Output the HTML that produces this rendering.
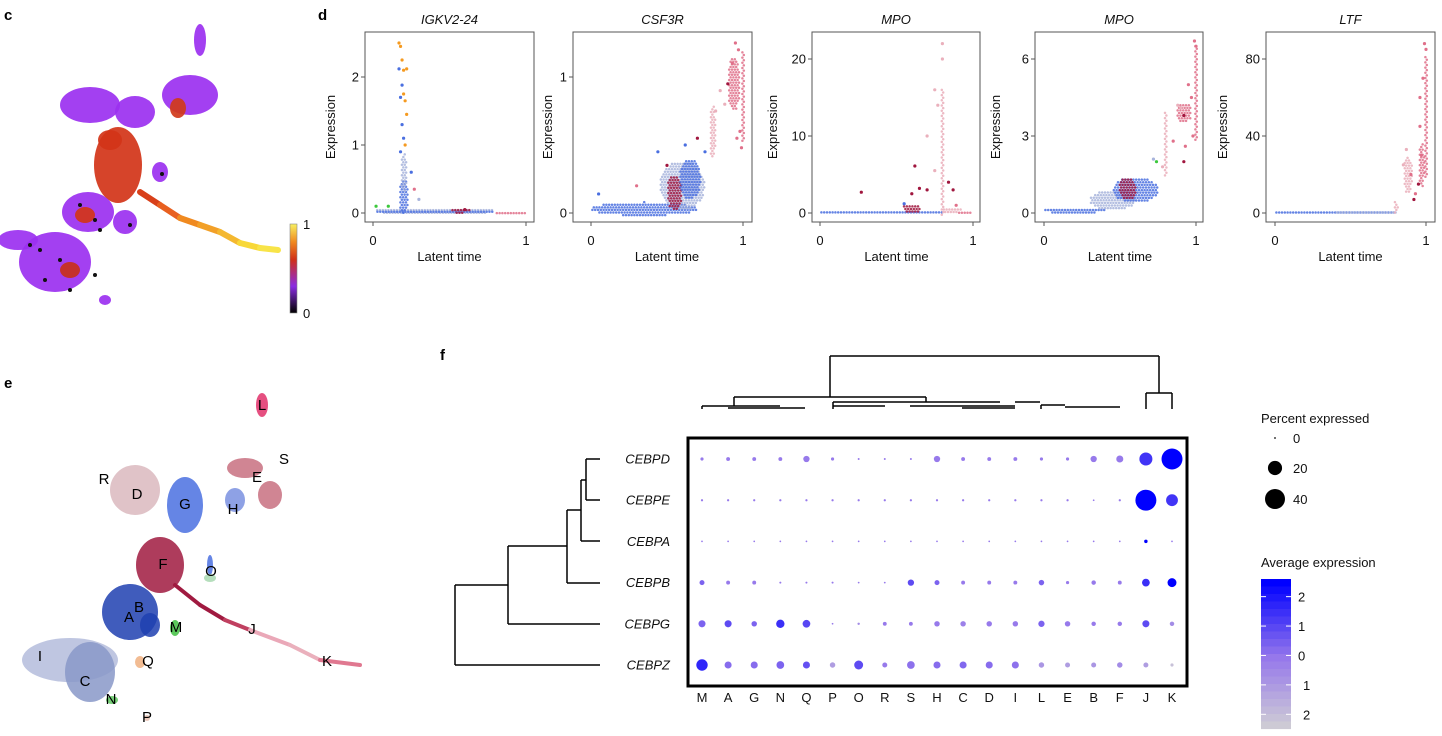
<!DOCTYPE html>
<html><head><meta charset="utf-8">
<style>
body{margin:0;background:#fff;}
svg{display:block;font-family:"Liberation Sans",sans-serif;}
.t{font-size:13px;fill:#111;}
.it{font-size:13px;font-style:italic;fill:#111;}
.pl{font-size:15px;font-weight:bold;fill:#000;}
</style></head>
<body>
<svg id="fig" width="1442" height="736" viewBox="0 0 1442 736">
<text class="pl" x="4" y="20">c</text>
<text class="pl" x="318" y="20">d</text>
<text class="pl" x="4" y="388">e</text>
<text class="pl" x="440" y="360">f</text>
<g id="gc"></g>
<g id="ge"></g>
<g id="gd"></g>
<g id="gf"></g>
</svg>
<script>
const NS='http://www.w3.org/2000/svg';
function mk(p,tag,a){const e=document.createElementNS(NS,tag);for(const k in a)e.setAttribute(k,a[k]);p.appendChild(e);return e;}

/* ---------- panel c: latent time UMAP blobs ---------- */
const cBlobs=[[200,40,6,16,'#9b30f0'],[190,95,28,20,'#9b30f0'],[178,108,8,10,'#d03a1a'],[90,105,30,18,'#9b30f0'],[135,112,20,16,'#9b30f0'],
[118,165,24,38,'#d23418'],[110,140,12,10,'#d23418'],[160,172,8,10,'#9b30f0'],[88,212,26,20,'#9b30f0'],[85,215,10,8,'#d23418'],
[55,262,36,30,'#9b30f0'],[70,270,10,8,'#c8301a'],[18,240,20,10,'#9b30f0'],[125,222,12,12,'#9b30f0'],[105,300,6,5,'#9b30f0']];
const cTail=[[140,192,'#d8401a'],[160,205,'#e86020'],[180,218,'#f08a20'],[200,225,'#f2a028'],[220,232,'#f4b830'],[240,243,'#f8d838'],[260,248,'#f8e448'],[278,250,'#f8e848']];
const cDark=[[80,205],[95,220],[30,245],[60,260],[45,280],[70,290],[40,250],[100,230],[130,225],[95,275],[162,174]];
(function(){const g=document.getElementById('gc');
 cBlobs.forEach(b=>{const e=mk(g,'ellipse',{cx:b[0],cy:b[1],rx:b[2],ry:b[3],fill:b[4],opacity:0.92});
  });
 for(let i=0;i<cTail.length-1;i++){const l=mk(g,'line',{x1:cTail[i][0],y1:cTail[i][1],x2:cTail[i+1][0],y2:cTail[i+1][1],stroke:cTail[i][2],'stroke-width':6,'stroke-linecap':'round'});
  }
 cDark.forEach(p=>{const c=mk(g,'circle',{cx:p[0],cy:p[1],r:2,fill:'#111'});});
 const d=mk(g,'defs',{});const lg=mk(d,'linearGradient',{id:'lt',x1:0,y1:1,x2:0,y2:0});
 [['0','#000'],['0.3','#8a2be2'],['0.6','#d03018'],['0.8','#f08a20'],['1','#f8f060']].forEach(s=>mk(lg,'stop',{offset:s[0],'stop-color':s[1]}));
 const cb=mk(g,'rect',{x:290,y:224,width:7,height:89,fill:'url(#lt)',stroke:'#888','stroke-width':0.6});
 
 const t1=mk(g,'text',{x:303,y:229,class:'t'});t1.textContent='1';
 const t0=mk(g,'text',{x:303,y:318,class:'t'});t0.textContent='0';
})();

/* ---------- panel e: cluster UMAP ---------- */
const eBlobs=[[262,405,6,12,'#e0306a'],[245,468,18,10,'#c87080'],[270,495,12,14,'#c87080'],[235,500,10,12,'#7a90e0'],
[185,505,18,28,'#4a70e0'],[135,490,25,25,'#dbb8be'],[160,565,24,28,'#a01a40'],[210,565,3,10,'#4a70e0'],[210,578,6,4,'#a8d8b0'],
[130,612,28,28,'#1e40b0'],[150,625,10,12,'#1e40b0'],[175,628,5,8,'#40c040'],[70,660,48,22,'#b4bcdc'],[90,672,25,30,'#8898c8'],
[112,700,6,4,'#60c860'],[140,662,5,6,'#f0b080'],[147,718,3,3,'#e8c0b0']];
const eTail=[[175,585,'#a01a40'],[200,605,'#a01a40'],[225,620,'#c04060'],[250,630,'#eaa8b8'],[290,645,'#eab0bc'],[320,660,'#e07890'],[360,665,'#e07890']];
const eLabs=[['L',262,410],['S',284,464],['E',257,482],['H',233,514],['G',185,509],['D',137,499],['R',104,484],['F',163,569],['O',211,576],
['B',139,612],['A',129,622],['M',176,632],['J',252,634],['I',40,661],['C',85,686],['N',111,704],['Q',148,666],['K',327,666],['P',147,722]];
(function(){const g=document.getElementById('ge');
 eBlobs.forEach(b=>{const e=mk(g,'ellipse',{cx:b[0],cy:b[1],rx:b[2],ry:b[3],fill:b[4],opacity:0.85});
  });
 for(let i=0;i<eTail.length-1;i++){const l=mk(g,'line',{x1:eTail[i][0],y1:eTail[i][1],x2:eTail[i+1][0],y2:eTail[i+1][1],stroke:eTail[i][2],'stroke-width':4,'stroke-linecap':'round'});
  }
 eLabs.forEach(l=>{const t=mk(g,'text',{x:l[1],y:l[2],'text-anchor':'middle','font-size':15,fill:'#000'});t.textContent=l[0];
  });
})();

/* ---------- panel d: expression vs latent time ---------- */
const dTitles=['IGKV2-24','CSF3R','MPO','MPO','LTF'];
const dYTicks=[[0,1,2],[0,1],[0,10,20],[0,3,6],[0,40,80]];
const dYMax=[2,1,20,6,80];
const PAL=['#1f3fb0','#4a6fe0','#a8b4dc','#eab0bc','#e0708a','#a0163e','#f59a20','#3cc83c'];
/* clouds: [t, expr, halfWidthT, halfHeightExpr, colorIdx] */
const dClouds=[
 [[0.4,0.03,0.4,0.05,2],[0.4,0.02,0.38,0.03,1],[0.57,0.04,0.06,0.04,5],[0.9,0.0,0.1,0.012,4],[0.2,0.25,0.03,0.25,1],[0.2,0.6,0.02,0.3,2]],
 [[0.35,0.03,0.35,0.05,1],[0.6,0.2,0.15,0.18,2],[0.55,0.15,0.05,0.13,5],[0.65,0.25,0.07,0.15,1],[0.8,0.6,0.02,0.2,3],[1.0,0.85,0.01,0.35,4],[0.94,0.95,0.04,0.2,4]],
 [[0.4,0.1,0.4,0.3,1],[0.6,0.6,0.06,0.6,5],[0.8,8,0.01,9,3],[0.86,0.4,0.06,0.4,3],[0.95,0.05,0.05,0.1,4]],
 [[0.2,0.1,0.2,0.12,1],[0.45,0.5,0.15,0.4,2],[0.6,0.9,0.15,0.5,1],[0.55,0.95,0.06,0.45,5],[0.8,2.7,0.012,1.3,3],[1.0,4.6,0.01,2.0,4],[0.92,3.9,0.05,0.4,4]],
 [[0.4,0.3,0.4,0.8,1],[0.6,0.3,0.2,0.6,2],[0.8,3,0.015,4,3],[0.88,20,0.03,10,3],[1.0,50,0.01,35,4],[0.97,25,0.02,12,4]]];
/* individual points: [t, expr, colorIdx] */
const dPts=[
 [[0.17,2.5,6],[0.18,2.45,6],[0.19,2.25,6],[0.17,2.12,1],[0.2,2.1,6],[0.22,2.12,6],[0.19,1.88,1],[0.2,1.75,6],[0.21,1.65,6],[0.18,1.7,1],[0.22,1.45,6],[0.19,1.3,1],[0.2,1.1,1],[0.21,1.0,6],[0.18,0.9,1],[0.25,0.6,1],[0.27,0.35,4],[0.3,0.2,2],[0.1,0.1,7],[0.6,0.05,5],[0.02,0.1,7]],
 [[0.44,0.45,1],[0.7,0.55,5],[0.75,0.45,1],[0.62,0.5,1],[0.85,0.9,3],[0.88,0.8,3],[0.9,0.95,5],[0.95,1.25,4],[0.97,1.2,4],[0.93,1.1,4],[0.98,0.6,4],[0.96,0.55,4],[0.99,0.48,4],[0.82,0.75,3],[0.05,0.14,1],[0.3,0.2,4],[0.5,0.35,5]],
 [[0.27,2.7,5],[0.62,6.1,5],[0.65,3.2,5],[0.7,3.0,5],[0.6,2.5,5],[0.75,16,3],[0.77,14,3],[0.8,22,3],[0.8,20,3],[0.7,10,3],[0.84,4,5],[0.87,3,5],[0.89,1,4],[0.75,5.5,3],[0.55,1.2,1]],
 [[0.88,4.2,3],[0.9,4.1,3],[0.92,3.8,5],[0.95,5,4],[0.97,4.5,4],[0.99,6.7,4],[1.0,6.5,4],[0.93,2.6,4],[0.92,2,5],[0.98,3,4],[0.85,2.8,4],[0.78,1.8,3],[0.72,2.1,2],[0.74,2.0,7]],
 [[0.96,60,4],[0.98,70,4],[0.99,88,4],[1.0,85,4],[0.95,15,5],[0.92,7,5],[0.9,20,4],[0.87,33,3],[0.85,25,3],[0.93,10,4],[0.96,45,4],[0.97,30,4]]];
const dFrames=[[365,534,373,526],[573,752,591,743],[812,980,820,973],[1035,1203,1044,1196],[1266,1435,1275,1426]];
const dYLab=[335,552,777,1000,1227];
(function(){const g=document.getElementById('gd');const Y0=213,YT=59,FT=32,FB=222;
 dTitles.forEach((title,i)=>{
  const [fl,fr,x0,x1]=dFrames[i];
  const xs=t=>x0+t*(x1-x0);
  const yTopPx=(i<2)?77:YT; const ys=v=>Y0-v/dYMax[i]*(Y0-yTopPx);
  const pg=mk(g,'g',{});
  const cp=mk(pg,'clipPath',{id:'cp'+i});mk(cp,'rect',{x:fl,y:FT,width:fr-fl,height:FB-FT});
  const inner=mk(pg,'g',{'clip-path':'url(#cp'+i+')'});
  dClouds[i].forEach(c=>{
   const cx=xs(c[0]),cy=ys(c[1]);const rx=Math.max(2,c[2]*(x1-x0)),ry=Math.max(2.5,c[3]/dYMax[i]*(Y0-yTopPx));
   const cg=mk(inner,'g',{fill:PAL[c[4]],opacity:0.85});
   
   let row=0;
   for(let yy=-ry;yy<=ry;yy+=2.6,row++){
    for(let xx=-rx+(row%2)*1.4;xx<=rx;xx+=2.8){
     if((xx*xx)/(rx*rx)+(yy*yy)/(ry*ry)<=1){mk(cg,'circle',{cx:cx+xx,cy:cy+yy,r:1.25});}
    }
   }
  });
  dPts[i].forEach(p=>{const c=mk(inner,'circle',{cx:xs(p[0]),cy:ys(p[1]),r:1.6,fill:PAL[p[2]]});
   });
  const fr_=mk(pg,'rect',{x:fl,y:FT,width:fr-fl,height:FB-FT,fill:'none',stroke:'#555','stroke-width':1});
  
  const tt=mk(pg,'text',{x:(fl+fr)/2,y:24,'text-anchor':'middle',class:'it'});tt.textContent=title;
  
  dYTicks[i].forEach(v=>{mk(pg,'line',{x1:fl-4,x2:fl,y1:ys(v),y2:ys(v),stroke:'#555'});
   const t=mk(pg,'text',{x:fl-6,y:ys(v)+4.5,'text-anchor':'end',class:'t'});t.textContent=v;
   });
  [0,1].forEach(v=>{mk(pg,'line',{x1:xs(v),x2:xs(v),y1:FB,y2:FB+4,stroke:'#555'});
   const t=mk(pg,'text',{x:xs(v),y:245,'text-anchor':'middle',class:'t'});t.textContent=v;
   });
  const xl=mk(pg,'text',{x:(x0+x1)/2,y:261,'text-anchor':'middle',class:'t'});xl.textContent='Latent time';
  
  const yl=mk(pg,'text',{x:dYLab[i],y:127,'text-anchor':'middle',class:'t',transform:'rotate(-90 '+dYLab[i]+' 127)'});yl.textContent='Expression';
  
 });
})();

/* ---------- panel f: dot plot ---------- */
const fCols=['M','A','G','N','Q','P','O','R','S','H','C','D','I','L','E','B','F','J','K'];
const fGenes=['CEBPD','CEBPE','CEBPA','CEBPB','CEBPG','CEBPZ'];
const fPct=[
 [1,1.5,1.5,1.5,4,1,0.4,0.4,0.4,4,1.5,1.5,1.5,1,1,4,5,17,44],
 [0.5,0.5,0.5,0.5,0.5,0.5,0.5,0.5,0.5,0.5,0.5,0.5,0.5,0.5,0.5,0.3,0.5,44,14],
 [0.3,0.3,0.3,0.3,0.3,0.3,0.3,0.3,0.3,0.3,0.3,0.3,0.3,0.3,0.3,0.3,0.3,1.2,0.3],
 [2.5,1.5,1.5,0.4,0.4,0.4,0.3,0.3,4,2.5,1.5,1.5,1.5,3,1,2,1.5,6,8],
 [5,5,3,7,6,0.3,0.6,1.5,1.5,3,3,3,3,4,3,2,2,5,2],
 [13,5,5,6,5,3,8,2.5,6,5,5,5,5,3,2.5,2.5,3,2.5,1]];
const fExp=[
 [0,0,0,0,0,0,0,0,0,0,0,0,0,0,0,0,0,1.5,2.6],
 [0,0,0,0,0,0,0,0,0,0,0,0,0,0,0,0,0,2.6,1.5],
 [0,0,0,0,0,0,0,0,0,0,0,0,0,0,0,0,0,2.6,0],
 [0.5,0,0,0,0,0,0,0,1,0.5,0,0,0,0.5,0,0,0,1.6,2.6],
 [0.5,1,0.5,1.6,1.1,0,-0.5,0,0,0,-0.2,0,0,0.5,0,0,0,1,-0.5],
 [1.8,0.3,0.3,0.5,0.9,-1,1,0,0.2,0.3,0.4,0.3,0.2,-0.8,-1,-0.8,-0.5,-1,-2]];
const fSizeTicks=[0,20,40];
const fColTicks=[2,1,0,-1,-2];
(function(){const g=document.getElementById('gf');
 const cx=i=>702+i*(1172-702)/(fCols.length-1);
 const cy=j=>459+j*(665-459)/(fGenes.length-1);
 const rs=p=>Math.max(0.6,Math.sqrt(p)*1.58);
 const ce=v=>{let t=(v+2.5)/5.1;t=Math.max(0,Math.min(1,t));const a=[211,211,211],m=[150,120,235],b=[0,0,255];
  let c;if(t<0.5){const u=t/0.5;c=a.map((x,k)=>x+(m[k]-x)*u);}else{const u=(t-0.5)/0.5;c=m.map((x,k)=>x+(b[k]-x)*u);}
  return 'rgb('+c.map(Math.round).join(',')+')';};
 const box=mk(g,'rect',{x:688,y:438,width:499,height:248,fill:'none',stroke:'#000','stroke-width':3});
 
 fGenes.forEach((gn,j)=>{
  fCols.forEach((cl,i)=>{const c=mk(g,'circle',{cx:cx(i),cy:cy(j),r:rs(fPct[j][i]),fill:ce(fExp[j][i])});
   });
  const t=mk(g,'text',{x:670,y:cy(j)+4.5,'text-anchor':'end',class:'it'});t.textContent=gn;
  });
 fCols.forEach((cl,i)=>{const t=mk(g,'text',{x:cx(i),y:702,'text-anchor':'middle',class:'t'});t.textContent=cl;
  });
 const ld=[[600,459,586,459],[600,500,586,500],[586,459,586,500],[586,480,581,480],[600,541,581,541],[581,480,581,541],[581,510,567,510],
  [600,583,567,583],[567,510,567,583],[567,546,508,546],[600,624,508,624],[508,546,508,624],[508,585,455,585],[600,665,455,665],[455,585,455,665]];
 const lg=mk(g,'g',{stroke:'#000','stroke-width':1.5,fill:'none'});
 ld.forEach(s=>mk(lg,'line',{x1:s[0],y1:s[1],x2:s[2],y2:s[3]}));
 const td=[[830,356,1159,356],[830,356,830,397],[1159,356,1159,393],[1146,393,1172,393],[1146,393,1146,409],[1172,393,1172,409],
  [734,397,926,397],[734,397,734,406],[926,397,926,402],[702,406,780,406],[702,406,702,409],[728,408,805,408],[833,402,1000,402],
  [833,402,833,409],[833,406,885,406],[910,406,1015,406],[962,408,1015,408],[1015,402,1040,402],[1041,405,1065,405],[1041,405,1041,409],[1065,407,1120,407]];
 const tg=mk(g,'g',{stroke:'#000','stroke-width':1.5,fill:'none'});
 td.forEach(s=>mk(tg,'line',{x1:s[0],y1:s[1],x2:s[2],y2:s[3]}));
 const t1=mk(g,'text',{x:1261,y:423,class:'t'});t1.textContent='Percent expressed';
 
 fSizeTicks.forEach((v,k)=>{const y=[438,468,499][k];const c=mk(g,'circle',{cx:1275,cy:y,r:rs(v===0?0.3:v),fill:'#000'});
  
  const t=mk(g,'text',{x:1293,y:y+5,class:'t'});t.textContent=v;});
 const t2=mk(g,'text',{x:1261,y:567,class:'t'});t2.textContent='Average expression';
 
 const N=20;for(let k=0;k<N;k++){const v=2.6-k*(5.1/N);const r=mk(g,'rect',{x:1261,y:579+k*7.5,width:30,height:7.6,fill:ce(v)});
  }
 fColTicks.forEach((v,k)=>{const y=579+(2.6-v)/5.1*150;mk(g,'line',{x1:1261,x2:1266,y1:y,y2:y,stroke:'#fff'});mk(g,'line',{x1:1286,x2:1291,y1:y,y2:y,stroke:'#fff'});
  const t=mk(g,'text',{x:v<0?1303:1298,y:y+5,class:'t'});t.textContent=Math.abs(v);});
})();
</script>
</body></html>
